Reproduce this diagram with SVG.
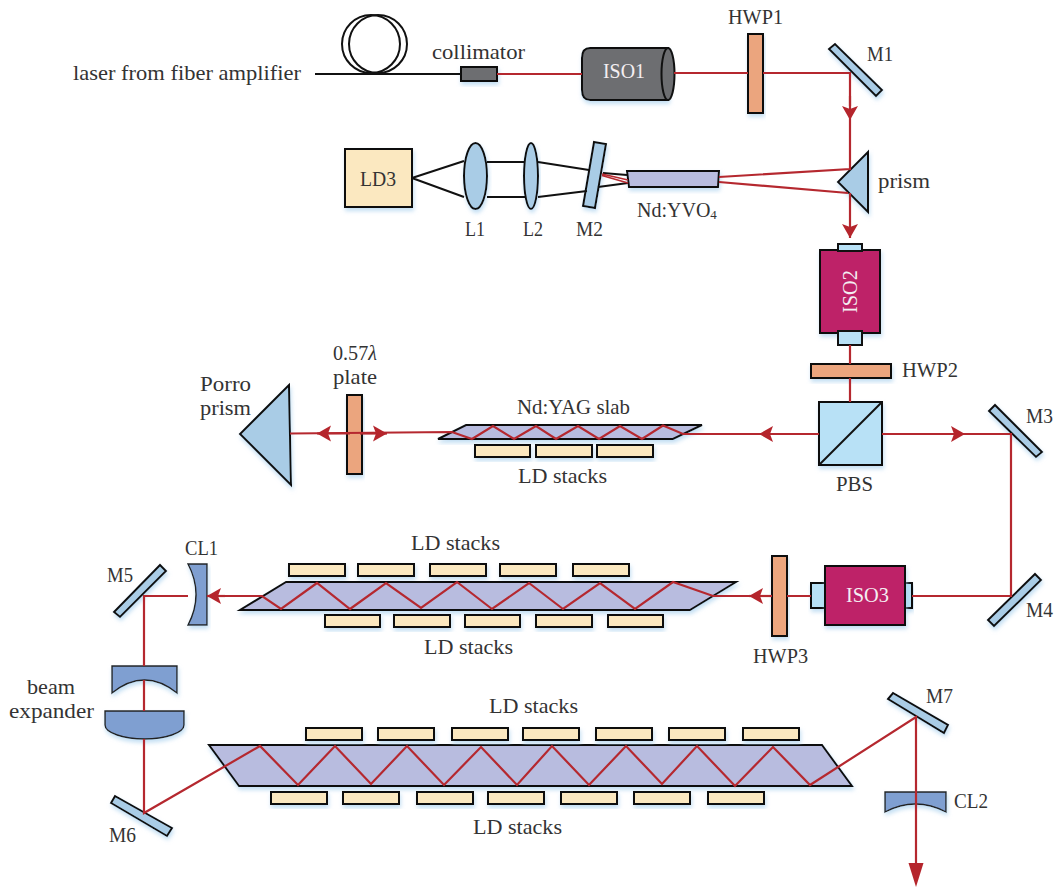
<svg xmlns="http://www.w3.org/2000/svg" width="1055" height="887" viewBox="0 0 1055 887">
<style>
text{font-family:"Liberation Serif","Times New Roman",serif;font-size:21px;fill:#333;}
text.w{fill:#f4eef2;}
.s{stroke:#111;stroke-width:2;stroke-linejoin:miter;filter:url(#sh);}
.t{stroke:#222;stroke-width:1.4;filter:url(#sh);}
.gray{fill:#6d6e71}.or{fill:#eba57e}.mir{fill:#a9cce6}.cube{fill:#b8e1f6}.cream{fill:#fbe8c0}.slab{fill:#b8bcdf}.mag{fill:#be2367}.lens{fill:#7f9fd1}
.r{fill:none;stroke:#b5282f;stroke-width:2.200;stroke-linejoin:miter}
.k{fill:none;stroke:#111;stroke-width:2}
</style>
<defs>
<filter id="sh" x="-20%" y="-30%" width="140%" height="170%"><feDropShadow dx="1" dy="3" stdDeviation="2.2" flood-color="#a9d0ee" flood-opacity=".7"/></filter>
<marker id="a" markerUnits="userSpaceOnUse" markerWidth="16" markerHeight="18" viewBox="0 -9 16 18" refX="14" refY="0" orient="auto"><path d="M0 -8L3 0L0 8L14 0Z" fill="#b5252c"/></marker>
</defs>

<g id="fiber"><ellipse class="k" cx="371" cy="44" rx="29" ry="29"/><ellipse class="k" cx="378" cy="44" rx="29" ry="29"/></g>
<g id="source-label"><text x="73" y="80" textLength="228" lengthAdjust="spacingAndGlyphs">laser from fiber amplifier</text></g>
<g id="collimator"><rect class="s gray" x="461" y="67" width="36" height="14"/><text x="432" y="59" textLength="93" lengthAdjust="spacingAndGlyphs">collimator</text></g>
<g id="iso1"><path class="s gray" d="M590 48H668V100H590Q582 100 582 90V58Q582 48 590 48Z"/><ellipse class="s gray" style="filter:none" cx="668" cy="74" rx="6.5" ry="26"/><text class="w" x="603" y="78" textLength="42" lengthAdjust="spacingAndGlyphs">ISO1</text></g>
<g id="hwp1"><rect class="s or" x="748" y="34" width="15" height="79"/><text x="728" y="24" textLength="55" lengthAdjust="spacingAndGlyphs">HWP1</text></g>
<g id="m1"><polygon class="s mir" points="829,49 835,44 882,90 876,96"/><text x="867" y="61" textLength="26" lengthAdjust="spacingAndGlyphs">M1</text></g>
<g id="prism"><polygon class="s mir" points="868,152 838,182 868,212"/><text x="878" y="188" textLength="52" lengthAdjust="spacingAndGlyphs">prism</text></g>
<g id="ld3"><rect class="s cream" x="345" y="149" width="67" height="58"/><text x="360" y="186" textLength="36" lengthAdjust="spacingAndGlyphs">LD3</text></g>
<g id="l1"><ellipse class="s mir" cx="475.5" cy="176" rx="11.5" ry="33"/><text x="465" y="236" textLength="20" lengthAdjust="spacingAndGlyphs">L1</text></g>
<g id="l2"><ellipse class="s mir" cx="531" cy="176" rx="7" ry="33"/><text x="523" y="236" textLength="20" lengthAdjust="spacingAndGlyphs">L2</text></g>
<g id="m2"><polygon class="s mir" points="594,142 606,144 595,208 583,206"/><text x="576" y="236" textLength="27" lengthAdjust="spacingAndGlyphs">M2</text></g>
<g id="ndyvo4"><polygon class="s slab" points="627,171 719,171 718,187 629,187"/><text x="637" y="217" font-size="20" style="font-size:20px">Nd:YVO<tspan style="font-size:13px" dy="2">4</tspan></text></g>
<g id="iso2"><rect class="s mag" x="820" y="250" width="60" height="83"/><rect class="s cube" style="filter:none" x="838" y="244" width="24" height="7"/><rect class="s cube" style="filter:none" x="838" y="331" width="24" height="14"/><text class="w" transform="translate(857 313) rotate(-90)" textLength="43" lengthAdjust="spacingAndGlyphs">ISO2</text></g>
<g id="hwp2"><rect class="s or" x="811" y="364" width="80" height="14"/><text x="902" y="377" textLength="56" lengthAdjust="spacingAndGlyphs">HWP2</text></g>
<g id="pbs"><rect class="s cube" x="819" y="402" width="63" height="63"/><path class="k" d="M819 465L882 402"/><text x="836" y="491" textLength="37" lengthAdjust="spacingAndGlyphs">PBS</text></g>
<g id="m3"><polygon class="s mir" points="989,411 995,405 1042,452 1036,457"/><text x="1026" y="423" textLength="27" lengthAdjust="spacingAndGlyphs">M3</text></g>
<g id="plate"><rect class="s or" x="347" y="395" width="15" height="79"/><text x="333" y="360" textLength="44" lengthAdjust="spacingAndGlyphs">0.57<tspan font-style="italic">λ</tspan></text><text x="333" y="384" textLength="44" lengthAdjust="spacingAndGlyphs">plate</text></g>
<g id="porro"><polygon class="s mir" points="289,385 240,434 291,485"/><text x="200" y="391" textLength="51" lengthAdjust="spacingAndGlyphs">Porro</text><text x="200" y="415" textLength="51" lengthAdjust="spacingAndGlyphs">prism</text></g>
<g id="slab1"><polygon class="s slab" points="466,425 702,425 673,439 438,439"/><text x="517" y="414" textLength="113" lengthAdjust="spacingAndGlyphs">Nd:YAG slab</text></g>
<g id="ld-a" class="cream"><rect class="s" x="475" y="445" width="55" height="12"/><rect class="s" x="536" y="445" width="56" height="12"/><rect class="s" x="597" y="445" width="56" height="12"/><text x="518" y="483" textLength="89" lengthAdjust="spacingAndGlyphs">LD stacks</text></g>
<g id="m4"><polygon class="s mir" points="988,620 1035,574 1041,580 994,626"/><text x="1026" y="617" textLength="27" lengthAdjust="spacingAndGlyphs">M4</text></g>
<g id="iso3"><rect class="s cube" x="905" y="583" width="7" height="25"/><rect class="s cube" x="811" y="583" width="14" height="25"/><rect class="s mag" x="825" y="566" width="80" height="59"/><text class="w" x="846" y="602" textLength="43" lengthAdjust="spacingAndGlyphs">ISO3</text></g>
<g id="hwp3"><rect class="s or" x="772" y="556" width="15" height="80"/><text x="753" y="663" textLength="55" lengthAdjust="spacingAndGlyphs">HWP3</text></g>
<g id="slab2"><polygon class="s slab" points="286,582 736,582 690,610 240,610"/></g>
<g id="ld-b" class="cream"><rect class="s" x="289" y="564" width="56" height="12"/><rect class="s" x="358" y="564" width="56" height="12"/><rect class="s" x="430" y="564" width="56" height="12"/><rect class="s" x="500" y="564" width="56" height="12"/><rect class="s" x="573" y="564" width="56" height="12"/><text x="411" y="550" textLength="89" lengthAdjust="spacingAndGlyphs">LD stacks</text></g>
<g id="ld-c" class="cream"><rect class="s" x="325" y="615" width="55" height="12"/><rect class="s" x="394" y="615" width="56" height="12"/><rect class="s" x="465" y="615" width="55" height="12"/><rect class="s" x="536" y="615" width="56" height="12"/><rect class="s" x="608" y="615" width="55" height="12"/><text x="424" y="654" textLength="89" lengthAdjust="spacingAndGlyphs">LD stacks</text></g>
<g id="cl1"><path class="t lens" d="M188 564H207V625H188Q204 594.5 188 564Z"/><text x="185" y="555" textLength="33" lengthAdjust="spacingAndGlyphs">CL1</text></g>
<g id="m5"><polygon class="s mir" points="114,612 160,565 166,571 120,617"/><text x="107" y="582" textLength="26" lengthAdjust="spacingAndGlyphs">M5</text></g>
<g id="beam-expander"><path class="t lens" d="M112 666H177V693Q144.5 667 112 693Z"/><path class="t lens" d="M105 711H184V725C184 733 165 739 144.5 739C124 739 105 733 105 725Z"/><text x="27" y="694" textLength="48" lengthAdjust="spacingAndGlyphs">beam</text><text x="9" y="718" textLength="85" lengthAdjust="spacingAndGlyphs">expander</text></g>
<g id="m6"><polygon class="s mir" points="111,803 115,796 172,828 167,836"/><text x="109" y="842" textLength="27" lengthAdjust="spacingAndGlyphs">M6</text></g>
<g id="slab3"><polygon class="s slab" points="209,745 822,745 852,786 239,786"/></g>
<g id="ld-d" class="cream"><rect class="s" x="306" y="728" width="56" height="12"/><rect class="s" x="378" y="728" width="56" height="12"/><rect class="s" x="452" y="728" width="56" height="12"/><rect class="s" x="523" y="728" width="56" height="12"/><rect class="s" x="596" y="728" width="56" height="12"/><rect class="s" x="669" y="728" width="56" height="12"/><rect class="s" x="743" y="728" width="56" height="12"/><text x="489" y="713" textLength="89" lengthAdjust="spacingAndGlyphs">LD stacks</text></g>
<g id="ld-e" class="cream"><rect class="s" x="271" y="792" width="56" height="12"/><rect class="s" x="343" y="792" width="56" height="12"/><rect class="s" x="417" y="792" width="56" height="12"/><rect class="s" x="488" y="792" width="56" height="12"/><rect class="s" x="561" y="792" width="56" height="12"/><rect class="s" x="634" y="792" width="56" height="12"/><rect class="s" x="708" y="792" width="56" height="12"/><text x="473" y="834" textLength="89" lengthAdjust="spacingAndGlyphs">LD stacks</text></g>
<g id="m7"><polygon class="s mir" points="888,699 893,693 948,725 944,733"/><text x="926" y="703" textLength="27" lengthAdjust="spacingAndGlyphs">M7</text></g>
<g id="cl2"><path class="t lens" d="M885 792H946V812Q915.5 796 885 812Z"/><text x="954" y="808" textLength="34" lengthAdjust="spacingAndGlyphs">CL2</text></g>

<g id="connectors">
<path class="k" d="M315 74H461"/>
<path class="k" d="M412 178L464 161M412 178L464 197M487 162H525M487 197H525M538 162L589 170M538 197L587 191M598 187L628 183M603 173L627 175"/>
<path class="r" d="M497 74H582M674 73H748M763 73H850V106"/>
<path class="r" marker-end="url(#a)" d="M850 96V120"/>
<path class="r" d="M850 120V169L719 177M719 182L848 193"/>
<path class="r" style="stroke-width:1.6" d="M602 174L628 180M602 175.500L628 183"/>
<path class="r" marker-end="url(#a)" d="M850 193V238"/>
<path class="r" d="M850 345V364M850 378V402"/>
<path class="r" marker-end="url(#a)" d="M819 434H759"/>
<path class="r" d="M760 434H683L663 425.500L642 439L620 426L599 439L578 426L556 439L536 426L514 439L493 426L472 439L452 432L290 433.500"/>
<path class="r" marker-end="url(#a)" d="M360 433.500H387"/>
<path class="r" marker-end="url(#a)" d="M350 433.500H317"/>
<path class="r" marker-end="url(#a)" d="M882 434H965"/>
<path class="r" d="M964 434H1011V596H912"/>
<path class="r" d="M811 596H787M772 596H763"/>
<path class="r" marker-end="url(#a)" d="M772 596H749"/>
<path class="r" d="M750 596H713L673 582L635 609L600 583L563 609L529 583L492 609L457 582L421 608L386 583L350 609L317 583L281 609L262 596H221"/>
<path class="r" marker-end="url(#a)" d="M225 596H207"/>
<path class="r" d="M188 596H144V666M144 680V711M144 739V813L260 746L298 785L335 746L371 784L407 746L444 785L481 747L517 785L552 746L589 785L626 746L662 784L697 746L735 786L773 747L810 785L916 717V865"/>
<polygon points="908.500,863 923.500,863 916,887" fill="#b5252c"/>
</g>
</svg>
